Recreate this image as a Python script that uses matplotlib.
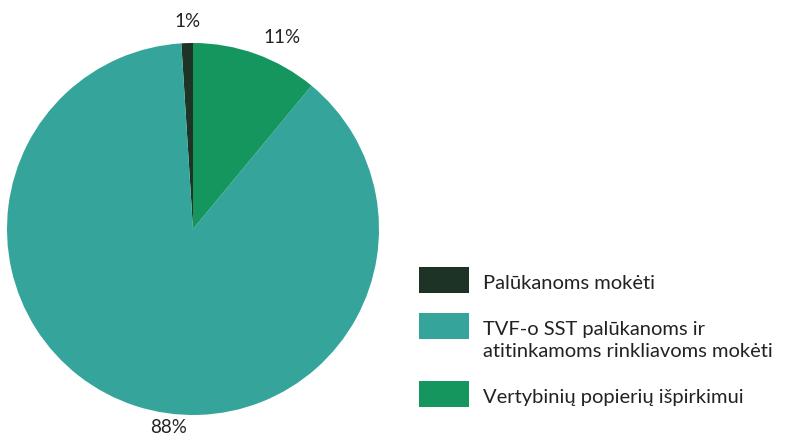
import matplotlib.pyplot as plt
from matplotlib.patches import Rectangle
import numpy as np

plt.rcParams['font.family'] = ['Lato', 'DejaVu Sans']

# duomenys
labels = ['Palūkanoms mokėti',
          'TVF-o SST palūkanoms ir\natitinkamoms rinkliavoms mokėti',
          'Vertybinių popierių išpirkimui']
shares = [1, 88, 11]
colors = ['#1c3326', '#35a59c', '#15965e']

W, H = 796, 436
fig = plt.figure(figsize=(W / 100, H / 100), dpi=100)
fig.patch.set_facecolor('white')

# pyrago centras ~ (193, 229) px, spindulys ~186 px
cx, cy, r = 193, 229, 186
ax = fig.add_axes([(cx - r) / W, (H - cy - r) / H, 2 * r / W, 2 * r / H])
wedges, texts, autotexts = ax.pie(shares, colors=colors, startangle=90,
                                  counterclock=True, radius=1,
                                  autopct='%d%%', pctdistance=1.12,
                                  wedgeprops=dict(linewidth=0))
# procentų užrašų vietos (kaip originale)
label_pos = [(-0.03, 1.113), (-0.134, -1.065), (0.478, 1.032)]
for t, p in zip(autotexts, label_pos):
    t.set_position(p)
    t.set_fontsize(13.5)
    t.set_color('#222222')
ax.set_xlim(-1, 1)
ax.set_ylim(-1, 1)
ax.set_aspect('equal')
ax.axis('off')

# legenda rankiniu būdu: kvadratėlis sulygiuotas su pirma eilute
def px(x, y):
    return x / W, 1 - y / H

row_y = 280
for lab, col in zip(labels, colors):
    x0, y0 = px(419, row_y + 13)
    fig.add_artist(Rectangle((x0, y0), 50 / W, 26 / H, color=col,
                             transform=fig.transFigure, lw=0))
    lines = lab.split('\n')
    for i, line in enumerate(lines):
        tx, ty = px(483, row_y + 3 + 22 * i)
        fig.text(tx, ty, line, fontsize=14.5, color='#222222',
                 ha='left', va='center')
    row_y += 46 + 22 * (len(lines) - 1)

fig.savefig('out.png', dpi=100, facecolor='white')
